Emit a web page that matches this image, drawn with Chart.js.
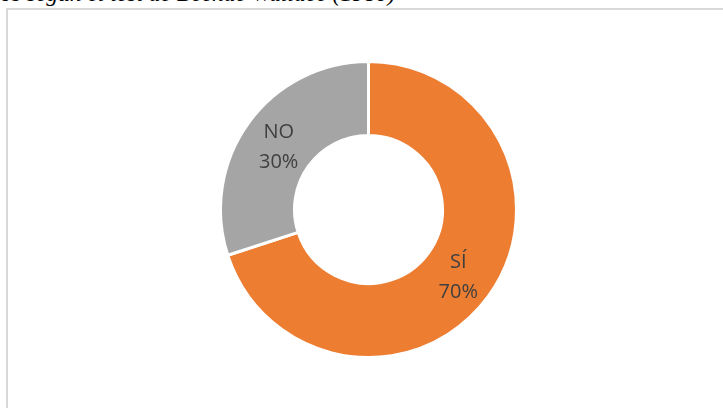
<!DOCTYPE html>
<html>
<head>
<meta charset="utf-8">
<script src="https://cdn.jsdelivr.net/npm/chart.js@4"></script>
<style>
  html, body { margin: 0; padding: 0; background: #fff; }
  body { width: 723px; height: 408px; position: relative; overflow: hidden; }
  #title {
    position: absolute; left: 0; top: -19px; white-space: nowrap;
    font-family: 'Liberation Serif', 'Times New Roman', serif;
    font-style: italic; font-size: 23.5px; color: #000; line-height: 24px;
  }
  #frame {
    position: absolute; left: 6px; top: 8px; width: 730px; height: 420px;
    border: 2px solid #d9d9d9; box-sizing: border-box;
  }
  #wrap { position: absolute; left: 219px; top: 60px; width: 299px; height: 299px; }
</style>
</head>
<body>
<div id="title"><span id="pre">Resultad</span>os según el test de Beenac Wallace (1980)</div>
<div id="frame"></div>
<div id="wrap"><canvas id="donut"></canvas></div>
<script>
// data
const labels = ['SÍ', 'NO'];
const values = [70, 30];
const colors = ['#ED7D31', '#A5A5A5'];

// hide the start of the cut-off heading to the left of the page
const pre = document.getElementById('pre');
document.getElementById('title').style.left = (-pre.getBoundingClientRect().width) + 'px';

// category + percent written in the middle of each ring segment
const sliceLabels = {
    id: 'sliceLabels',
    afterDatasetsDraw(chart) {
        const ctx = chart.ctx;
        const meta = chart.getDatasetMeta(0);
        const total = values.reduce((a, b) => a + b, 0);
        ctx.save();
        ctx.fillStyle = '#404040';
        ctx.font = "20px 'Open Sans', sans-serif";
        ctx.textAlign = 'center';
        ctx.textBaseline = 'middle';
        meta.data.forEach((arc, i) => {
            const p = arc.tooltipPosition();
            const pct = Math.round(values[i] / total * 100) + '%';
            ctx.fillText(labels[i], p.x, p.y - 12);
            ctx.fillText(pct, p.x, p.y + 18);
        });
        ctx.restore();
    }
};

new Chart(document.getElementById('donut').getContext('2d'), {
    type: 'doughnut',
    data: {
        labels: labels,
        datasets: [{
            data: values,
            backgroundColor: colors,
            borderColor: '#ffffff',
            borderWidth: 3,
            hoverOffset: 0
        }]
    },
    options: {
        responsive: true,
        maintainAspectRatio: false,
        animation: false,
        cutout: '50%',
        layout: { padding: 0 },
        plugins: {
            legend: { display: false },
            tooltip: { enabled: false }
        }
    },
    plugins: [sliceLabels]
});
</script>
</body>
</html>
